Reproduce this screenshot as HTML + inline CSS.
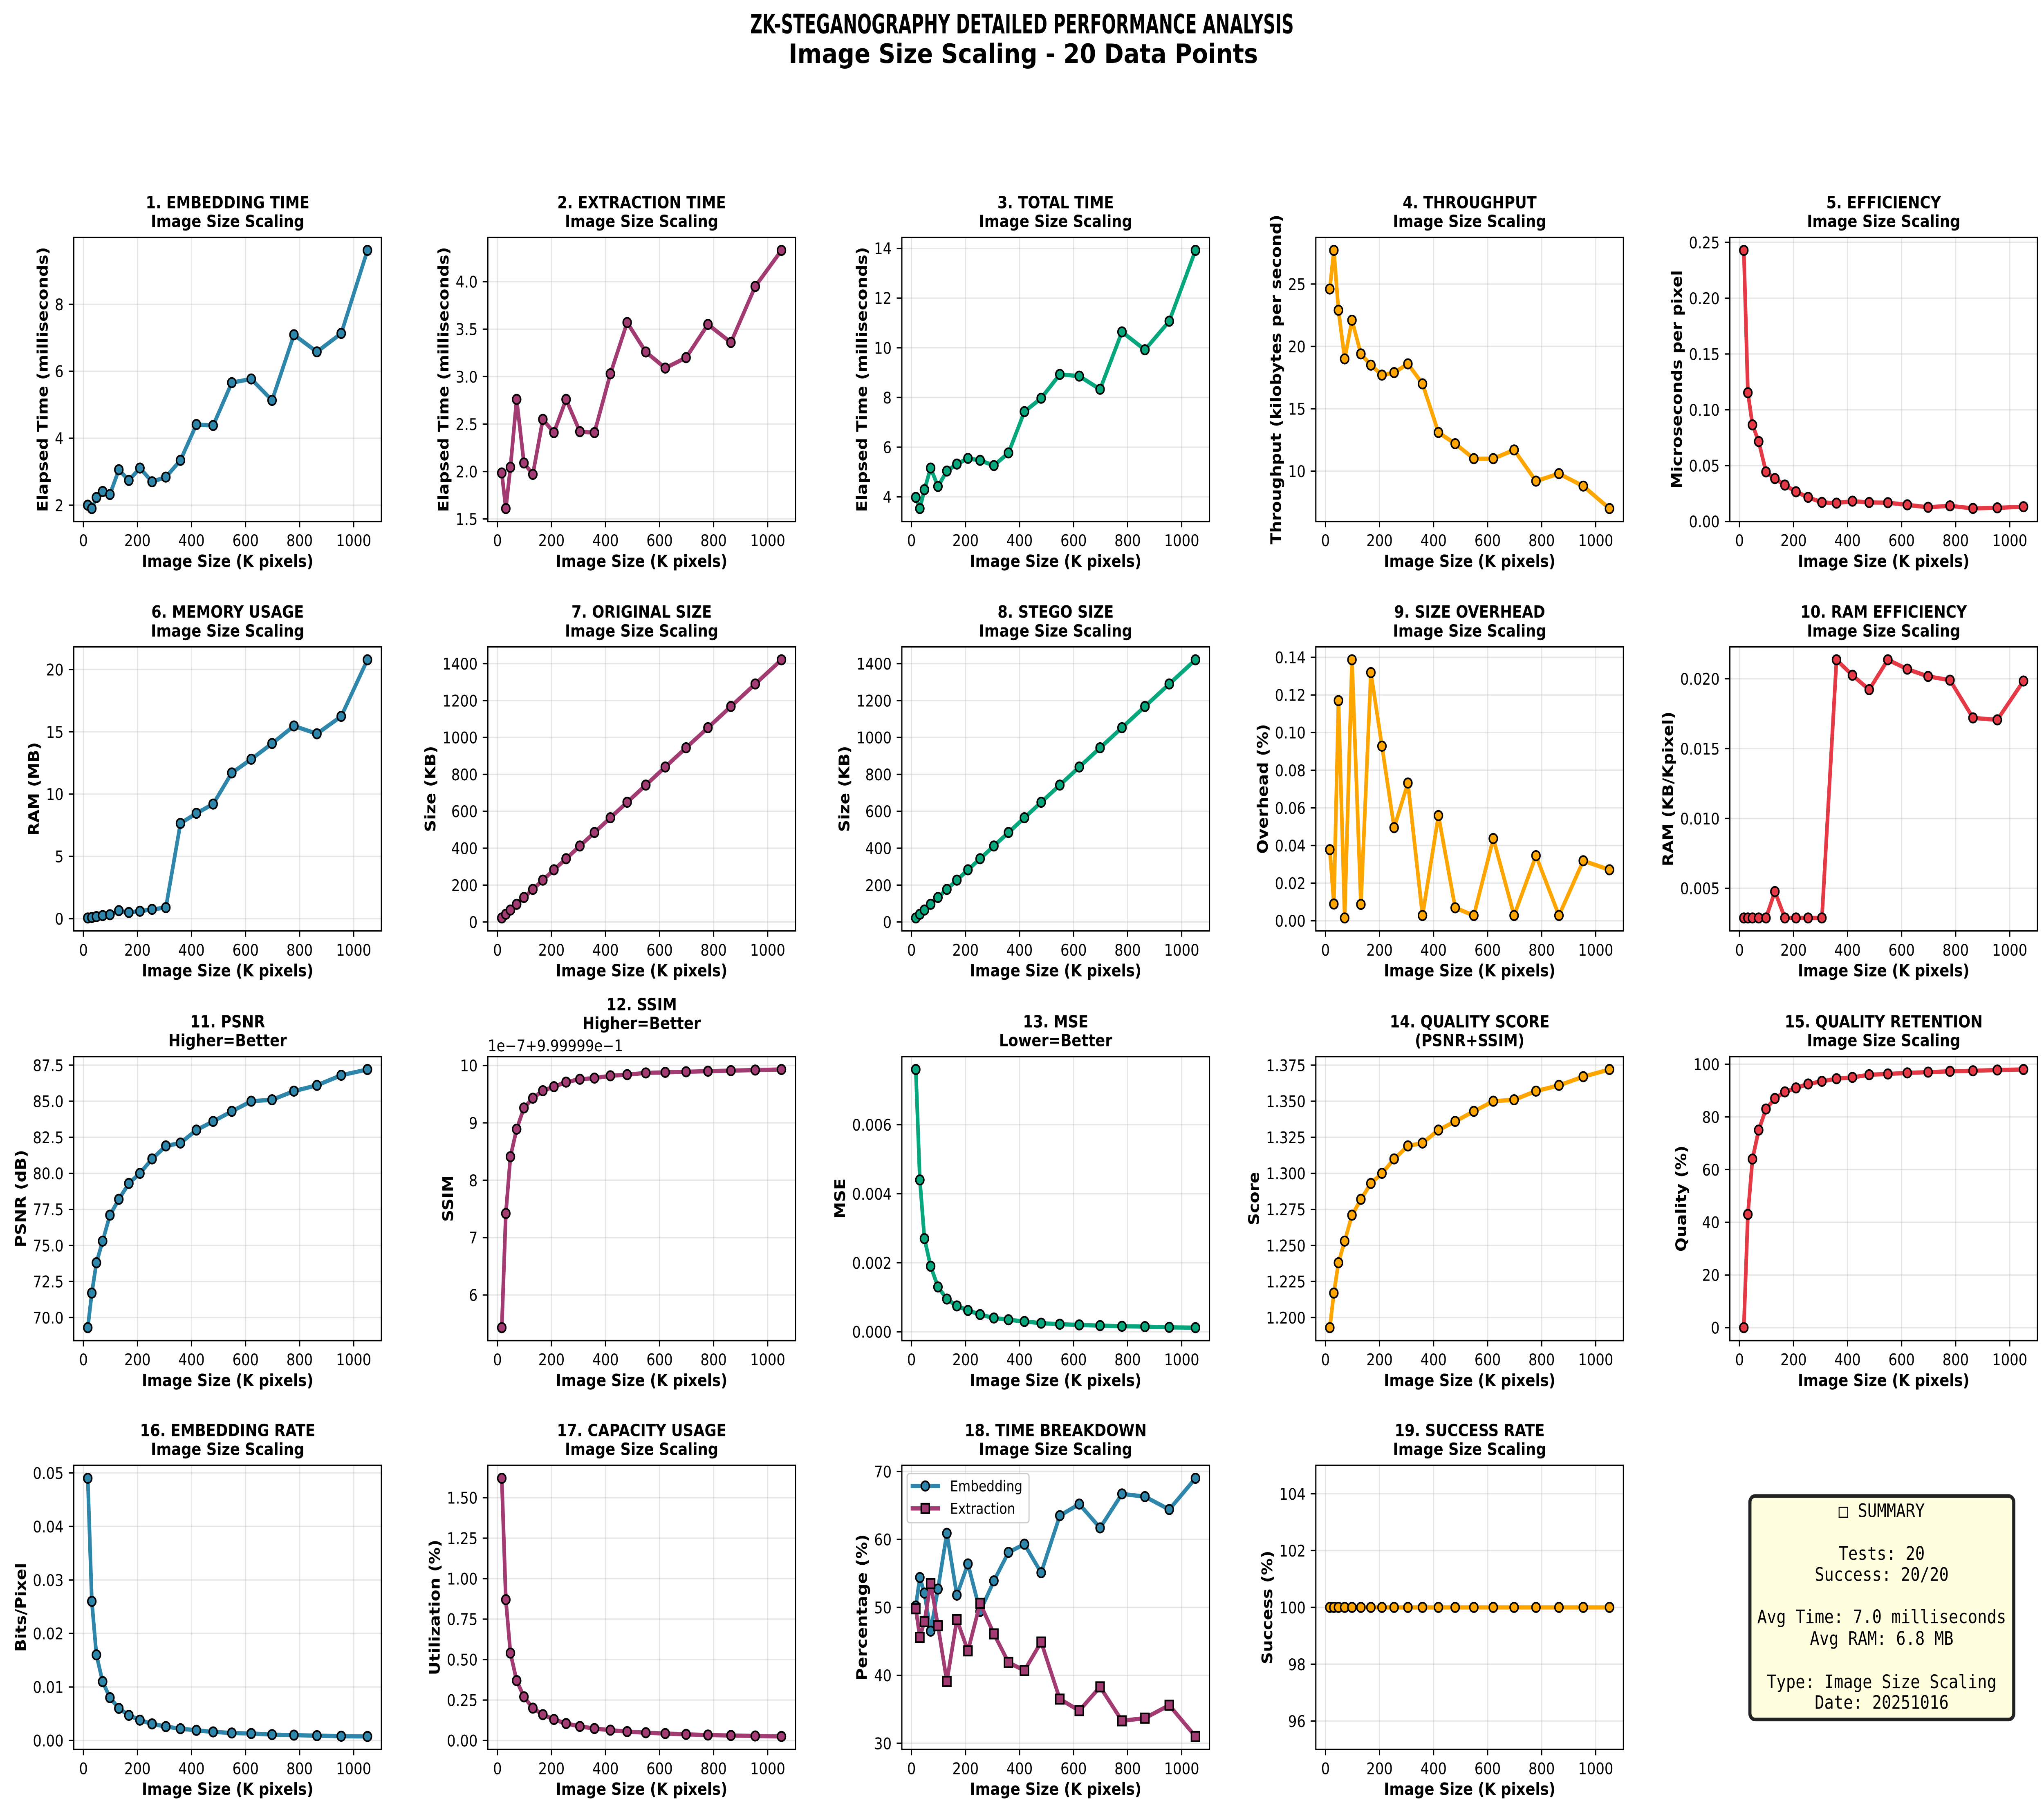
<!DOCTYPE html>
<html>
<head>
<meta charset="utf-8">
<meta name="viewport" content="width=5818">
<style>
  html,body{margin:0;padding:0;background:#fff;width:100vw;height:100vh;overflow:hidden;}
  svg{display:block;width:100vw;height:100vh;}
  text{font-family:"DejaVu Sans","Liberation Sans",sans-serif;}
  .mono{font-family:"DejaVu Sans Mono","Liberation Mono",monospace;}
</style>
</head>
<body>
<svg id="fig" xmlns="http://www.w3.org/2000/svg" viewBox="0 0 1568 1195" preserveAspectRatio="none">
  <rect x="0" y="0" width="1568" height="1195" fill="#ffffff"/>
  <text x="784" y="22" text-anchor="middle" font-weight="bold" font-size="17.5" textLength="417" lengthAdjust="spacingAndGlyphs">ZK-STEGANOGRAPHY DETAILED PERFORMANCE ANALYSIS</text>
  <text x="785" y="41.5" text-anchor="middle" font-weight="bold" font-size="17.5" textLength="360" lengthAdjust="spacingAndGlyphs">Image Size Scaling - 20 Data Points</text>
  <g id="panels"></g>
  <g>
    <rect x="1342.4" y="986.6" width="202.4" height="147.4" rx="4" ry="4" fill="#FFFFE0" stroke="#222" stroke-width="2.4"/>
    <g class="mono" font-size="12.2" text-anchor="middle">
      <text class="mono" x="1443.5" y="1000.5">□ SUMMARY</text>
      <text class="mono" x="1443.5" y="1028.7">Tests: 20</text>
      <text class="mono" x="1443.5" y="1042.5">Success: 20/20</text>
      <text class="mono" x="1443.5" y="1070.5">Avg Time: 7.0 milliseconds</text>
      <text class="mono" x="1443.5" y="1084.7">Avg RAM: 6.8 MB</text>
      <text class="mono" x="1443.5" y="1113.3">Type: Image Size Scaling</text>
      <text class="mono" x="1443.5" y="1127">Date: 20251016</text>
    </g>
  </g>
</svg>
<script>
// ---------- data ----------
const imageSizes = [16,31,48,71,98,131,168,209,254,305,359,418,480,549,621,698,779,864,954,1051];
const embeddingTime = [2.0,1.9,2.23,2.41,2.32,3.06,2.74,3.11,2.70,2.84,3.34,4.41,4.38,5.66,5.77,5.13,7.09,6.58,7.13,9.61];
const extractionTime = [1.985,1.61,2.045,2.76,2.09,1.97,2.55,2.41,2.76,2.42,2.41,3.03,3.57,3.26,3.09,3.20,3.55,3.36,3.95,4.33];
const totalTime = [3.98,3.53,4.29,5.16,4.42,5.04,5.32,5.55,5.47,5.26,5.77,7.43,7.97,8.93,8.86,8.33,10.64,9.92,11.07,13.92];
const throughput = [24.6,27.7,22.9,19.0,22.1,19.4,18.5,17.7,17.9,18.6,17.0,13.1,12.2,11.0,11.0,11.7,9.2,9.8,8.8,7.0];
const efficiency = [0.2428,0.1153,0.0865,0.0716,0.0444,0.0384,0.0326,0.0266,0.0216,0.0171,0.0164,0.0182,0.017,0.0168,0.0149,0.0127,0.014,0.0117,0.0122,0.0132];
const memoryUsage = [0.06,0.1,0.17,0.25,0.32,0.65,0.5,0.6,0.75,0.89,7.65,8.46,9.2,11.7,12.8,14.06,15.47,14.84,16.24,20.78];
const originalSize = [22,42,65,96,133,177,227,283,343,412,485,565,649,742,840,944,1053,1168,1290,1421];
const stegoSize = [22,42,65,96,133,177,227,283,343,412,485,565,649,742,840,944,1053,1168,1290,1421];
const sizeOverhead = [0.0378,0.0089,0.117,0.0015,0.1387,0.0087,0.1319,0.0928,0.0495,0.0732,0.0028,0.0559,0.0069,0.0028,0.0437,0.0028,0.0346,0.0028,0.0319,0.0271];
const ramEfficiency = [0.00288,0.00288,0.00288,0.00288,0.00288,0.00477,0.00288,0.00288,0.00288,0.00288,0.02136,0.02025,0.01922,0.02136,0.02069,0.02017,0.0199,0.0172,0.01706,0.01984];
const psnr = [69.3,71.7,73.8,75.3,77.1,78.2,79.3,80.0,81.0,81.9,82.1,83.0,83.6,84.3,85.0,85.1,85.7,86.1,86.8,87.2];
const ssimOffset = [5.43,7.42,8.41,8.89,9.26,9.43,9.56,9.63,9.71,9.76,9.78,9.82,9.84,9.87,9.88,9.89,9.90,9.91,9.92,9.93];
const mse = [0.0076,0.0044,0.0027,0.0019,0.0013,0.00095,0.00075,0.00062,0.0005,0.0004,0.00035,0.0003,0.00025,0.00022,0.0002,0.00018,0.00016,0.00015,0.00013,0.00012];
const qualityScore = [1.193,1.217,1.238,1.253,1.271,1.282,1.293,1.300,1.310,1.319,1.321,1.330,1.336,1.343,1.350,1.351,1.357,1.361,1.367,1.372];
const qualityRetention = [0,43,64,75,83,87,89.5,91,92.5,93.5,94.5,95,96,96.3,96.7,97,97.3,97.5,97.8,98];
const embeddingRate = [0.049,0.026,0.016,0.011,0.008,0.006,0.0047,0.0038,0.0031,0.0026,0.0022,0.0019,0.0016,0.0014,0.0013,0.0011,0.001,0.0009,0.0008,0.00075];
const capacityUsage = [1.62,0.87,0.54,0.37,0.27,0.2,0.16,0.13,0.105,0.087,0.074,0.064,0.055,0.048,0.043,0.038,0.034,0.031,0.028,0.025];
const embedPct = [50.2,54.4,52.1,46.5,52.7,60.9,51.8,56.4,49.4,53.9,58.1,59.3,55.1,63.5,65.2,61.7,66.7,66.3,64.4,69.0];
const extractPct = [49.8,45.6,47.9,53.5,47.3,39.1,48.2,43.6,50.6,46.1,41.9,40.7,44.9,36.5,34.8,38.3,33.3,33.7,35.6,31.0];
const successRate = [100,100,100,100,100,100,100,100,100,100,100,100,100,100,100,100,100,100,100,100];

// ---------- tick labels ----------
const xTicks = [0,200,400,600,800,1000];
const xTickLabels = ['0','200','400','600','800','1000'];
const yt1 = [2,4,6,8], yl1 = ['2','4','6','8'];
const yt2 = [1.5,2,2.5,3,3.5,4], yl2 = ['1.5','2.0','2.5','3.0','3.5','4.0'];
const yt3 = [4,6,8,10,12,14], yl3 = ['4','6','8','10','12','14'];
const yt4 = [10,15,20,25], yl4 = ['10','15','20','25'];
const yt5 = [0,0.05,0.10,0.15,0.20,0.25], yl5 = ['0.00','0.05','0.10','0.15','0.20','0.25'];
const yt6 = [0,5,10,15,20], yl6 = ['0','5','10','15','20'];
const yt7 = [0,200,400,600,800,1000,1200,1400], yl7 = ['0','200','400','600','800','1000','1200','1400'];
const yt9 = [0,0.02,0.04,0.06,0.08,0.10,0.12,0.14], yl9 = ['0.00','0.02','0.04','0.06','0.08','0.10','0.12','0.14'];
const yt10 = [0.005,0.010,0.015,0.020], yl10 = ['0.005','0.010','0.015','0.020'];
const yt11 = [70,72.5,75,77.5,80,82.5,85,87.5], yl11 = ['70.0','72.5','75.0','77.5','80.0','82.5','85.0','87.5'];
const yt12 = [6,7,8,9,10], yl12 = ['6','7','8','9','10'];
const yt13 = [0,0.002,0.004,0.006,0.008], yl13 = ['0.000','0.002','0.004','0.006','0.008'];
const yt14 = [1.2,1.225,1.25,1.275,1.3,1.325,1.35,1.375], yl14 = ['1.200','1.225','1.250','1.275','1.300','1.325','1.350','1.375'];
const yt15 = [0,20,40,60,80,100], yl15 = ['0','20','40','60','80','100'];
const yt16 = [0,0.01,0.02,0.03,0.04,0.05], yl16 = ['0.00','0.01','0.02','0.03','0.04','0.05'];
const yt17 = [0,0.25,0.5,0.75,1.0,1.25,1.5], yl17 = ['0.00','0.25','0.50','0.75','1.00','1.25','1.50'];
const yt18 = [30,40,50,60,70], yl18 = ['30','40','50','60','70'];
const yt19 = [96,98,100,102,104], yl19 = ['96','98','100','102','104'];

const BLUE='#2E86AB', MAG='#A23B72', GREEN='#06A77D', ORANGE='#FFA500', RED='#E63946';

const panels = [
 {t:'1. EMBEDDING TIME', s:'Image Size Scaling', yl:'Elapsed Time (milliseconds)', series:[{y:embeddingTime,c:BLUE}], yt:yt1, ytl:yl1},
 {t:'2. EXTRACTION TIME', s:'Image Size Scaling', yl:'Elapsed Time (milliseconds)', series:[{y:extractionTime,c:MAG}], yt:yt2, ytl:yl2},
 {t:'3. TOTAL TIME', s:'Image Size Scaling', yl:'Elapsed Time (milliseconds)', series:[{y:totalTime,c:GREEN}], yt:yt3, ytl:yl3},
 {t:'4. THROUGHPUT', s:'Image Size Scaling', yl:'Throughput (kilobytes per second)', series:[{y:throughput,c:ORANGE}], yt:yt4, ytl:yl4},
 {t:'5. EFFICIENCY', s:'Image Size Scaling', yl:'Microseconds per pixel', series:[{y:efficiency,c:RED}], yt:yt5, ytl:yl5, ymin0:true},
 {t:'6. MEMORY USAGE', s:'Image Size Scaling', yl:'RAM (MB)', series:[{y:memoryUsage,c:BLUE}], yt:yt6, ytl:yl6},
 {t:'7. ORIGINAL SIZE', s:'Image Size Scaling', yl:'Size (KB)', series:[{y:originalSize,c:MAG}], yt:yt7, ytl:yl7},
 {t:'8. STEGO SIZE', s:'Image Size Scaling', yl:'Size (KB)', series:[{y:stegoSize,c:GREEN}], yt:yt7, ytl:yl7},
 {t:'9. SIZE OVERHEAD', s:'Image Size Scaling', yl:'Overhead (%)', series:[{y:sizeOverhead,c:ORANGE}], yt:yt9, ytl:yl9},
 {t:'10. RAM EFFICIENCY', s:'Image Size Scaling', yl:'RAM (KB/Kpixel)', series:[{y:ramEfficiency,c:RED}], yt:yt10, ytl:yl10},
 {t:'11. PSNR', s:'Higher=Better', yl:'PSNR (dB)', series:[{y:psnr,c:BLUE}], yt:yt11, ytl:yl11},
 {t:'12. SSIM', s:'Higher=Better', yl:'SSIM', series:[{y:ssimOffset,c:MAG}], yt:yt12, ytl:yl12, offset:'1e\u22127+9.99999e\u22121'},
 {t:'13. MSE', s:'Lower=Better', yl:'MSE', series:[{y:mse,c:GREEN}], yt:yt13, ytl:yl13},
 {t:'14. QUALITY SCORE', s:'(PSNR+SSIM)', yl:'Score', series:[{y:qualityScore,c:ORANGE}], yt:yt14, ytl:yl14},
 {t:'15. QUALITY RETENTION', s:'Image Size Scaling', yl:'Quality (%)', series:[{y:qualityRetention,c:RED}], yt:yt15, ytl:yl15},
 {t:'16. EMBEDDING RATE', s:'Image Size Scaling', yl:'Bits/Pixel', series:[{y:embeddingRate,c:BLUE}], yt:yt16, ytl:yl16},
 {t:'17. CAPACITY USAGE', s:'Image Size Scaling', yl:'Utilization (%)', series:[{y:capacityUsage,c:MAG}], yt:yt17, ytl:yl17},
 {t:'18. TIME BREAKDOWN', s:'Image Size Scaling', yl:'Percentage (%)', series:[{y:embedPct,c:BLUE,name:'Embedding'},{y:extractPct,c:MAG,m:'s',name:'Extraction'}], yt:yt18, ytl:yl18, legend:true},
 {t:'19. SUCCESS RATE', s:'Image Size Scaling', yl:'Success (%)', series:[{y:successRate,c:ORANGE}], yt:yt19, ytl:yl19}
];

// ---------- drawing ----------
const NS='http://www.w3.org/2000/svg';
const root=document.getElementById('panels');
function mk(tag, parent){ const e=document.createElementNS(NS,tag); parent.appendChild(e); return e; }
function slug(s){ return s.toLowerCase().replace(/^\d+\.\s*/,'').replace(/[^a-z0-9]+/g,'-').replace(/^-|-$/g,''); }

const LEFT0=56.6, COLSTEP=317.6, W=236, H=187.3;
const TOPS=[156.6,426.6,696.8,966.4];
const TICKFS=10.6, LBLFS=11.1;

panels.forEach((p,i)=>{
  const col=i%5, row=Math.floor(i/5);
  const L=LEFT0+col*COLSTEP, T=TOPS[row], B=T+H, R=L+W;
  const g=mk('g',root);
  
  

  const xmin=Math.min(...imageSizes), xmax=Math.max(...imageSizes);
  const xpad=(xmax-xmin)*0.05;
  const x0=xmin-xpad, x1=xmax+xpad;
  let all=[]; p.series.forEach(s=>{all=all.concat(s.y);});
  let ymn=Math.min(...all), ymx=Math.max(...all);
  let y0,y1;
  if(ymx-ymn===0){ y0=ymn-Math.abs(ymn)*0.05; y1=ymx+Math.abs(ymx)*0.05; }
  else { const yp=(ymx-ymn)*0.05; y0=ymn-yp; y1=ymx+yp; }
  if(p.ymin0) y0=0;
  const sx=v=>L+(v-x0)/(x1-x0)*W;
  const sy=v=>B-(v-y0)/(y1-y0)*H;

  const grid=mk('g',g);
  
  
  xTicks.forEach(v=>{ if(v<x0||v>x1) return;
    const l=mk('line',grid); l.setAttribute('x1',sx(v)); l.setAttribute('x2',sx(v)); l.setAttribute('y1',T); l.setAttribute('y2',B);
    l.setAttribute('stroke','#b0b0b0'); l.setAttribute('stroke-opacity','0.3'); l.setAttribute('stroke-width','0.9');
    
    
  });
  p.yt.forEach(v=>{ if(v<y0-1e-12||v>y1+1e-12) return;
    const l=mk('line',grid); l.setAttribute('x1',L); l.setAttribute('x2',R); l.setAttribute('y1',sy(v)); l.setAttribute('y2',sy(v));
    l.setAttribute('stroke','#b0b0b0'); l.setAttribute('stroke-opacity','0.3'); l.setAttribute('stroke-width','0.9');
    
    
  });

  p.series.forEach((s,si)=>{
    const sg=mk('g',g);
    
    
    const pl=mk('polyline',sg);
    pl.setAttribute('points',imageSizes.map((x,k)=>sx(x)+','+sy(s.y[k])).join(' '));
    pl.setAttribute('fill','none'); pl.setAttribute('stroke',s.c); pl.setAttribute('stroke-width','2.8'); pl.setAttribute('stroke-linejoin','round');
    
    
    imageSizes.forEach((x,k)=>{
      let m;
      if(s.m==='s'){
        m=mk('rect',sg); m.setAttribute('x',sx(x)-3.1); m.setAttribute('y',sy(s.y[k])-3.1); m.setAttribute('width',6.2); m.setAttribute('height',6.2);
      } else {
        m=mk('circle',sg); m.setAttribute('cx',sx(x)); m.setAttribute('cy',sy(s.y[k])); m.setAttribute('r',3.1);
      }
      m.setAttribute('fill',s.c); m.setAttribute('stroke','#000'); m.setAttribute('stroke-width','1.1');
      
      
    });
  });

  const fr=mk('rect',g);
  fr.setAttribute('x',L); fr.setAttribute('y',T); fr.setAttribute('width',W); fr.setAttribute('height',H);
  fr.setAttribute('fill','none'); fr.setAttribute('stroke','#000'); fr.setAttribute('stroke-width','0.95');
  
  

  const xa=mk('g',g);
  
  
  xTicks.forEach((v,k)=>{ if(v<x0||v>x1) return;
    const l=mk('line',xa); l.setAttribute('x1',sx(v)); l.setAttribute('x2',sx(v)); l.setAttribute('y1',B); l.setAttribute('y2',B+3.9);
    l.setAttribute('stroke','#000'); l.setAttribute('stroke-width','0.9');
    
    
    const t=mk('text',xa); t.setAttribute('x',sx(v)); t.setAttribute('y',B+16.3); t.setAttribute('text-anchor','middle'); t.setAttribute('font-size',TICKFS);
    t.textContent=xTickLabels[k];
    
    
  });
  const xl=mk('text',xa); xl.setAttribute('x',L+W/2); xl.setAttribute('y',B+30); xl.setAttribute('text-anchor','middle');
  xl.setAttribute('font-size',LBLFS); xl.setAttribute('font-weight','bold'); xl.textContent='Image Size (K pixels)';
  
  

  const ya=mk('g',g);
  
  
  let maxw=0;
  p.yt.forEach((v,k)=>{ if(v<y0-1e-12||v>y1+1e-12) return;
    const l=mk('line',ya); l.setAttribute('x1',L-3.9); l.setAttribute('x2',L); l.setAttribute('y1',sy(v)); l.setAttribute('y2',sy(v));
    l.setAttribute('stroke','#000'); l.setAttribute('stroke-width','0.9');
    
    
    const t=mk('text',ya); t.setAttribute('x',L-7.8); t.setAttribute('y',sy(v)+3.9); t.setAttribute('text-anchor','end'); t.setAttribute('font-size',TICKFS);
    t.textContent=p.ytl[k];
    
    
    const s=p.ytl[k]; let w=0; for(const ch of s){ w+= (ch==='.')?0.318:0.636; }
    maxw=Math.max(maxw,w*TICKFS);
  });
  const yx=L-7.8-maxw-5.5;
  const yl=mk('text',ya); yl.setAttribute('x',yx); yl.setAttribute('y',T+H/2); yl.setAttribute('text-anchor','middle');
  yl.setAttribute('transform','rotate(-90 '+yx+' '+(T+H/2)+')');
  yl.setAttribute('font-size',LBLFS); yl.setAttribute('font-weight','bold'); yl.textContent=p.yl;
  
  

  let shift=0;
  if(p.offset){
    const ot=mk('text',g); ot.setAttribute('x',L); ot.setAttribute('y',T-3.5); ot.setAttribute('font-size',TICKFS); ot.textContent=p.offset;
    
    
    shift=11.3;
  }
  const t1=mk('text',g); t1.setAttribute('x',L+W/2); t1.setAttribute('y',T-19.3-shift); t1.setAttribute('text-anchor','middle');
  t1.setAttribute('font-size',LBLFS); t1.setAttribute('font-weight','bold'); t1.textContent=p.t;
  
  
  const t2=mk('text',g); t2.setAttribute('x',L+W/2); t2.setAttribute('y',T-6.8-shift); t2.setAttribute('text-anchor','middle');
  t2.setAttribute('font-size',LBLFS); t2.setAttribute('font-weight','bold'); t2.textContent=p.s;
  
  

  if(p.legend){
    const lg=mk('g',g);
    
    
    const bx=mk('rect',lg); bx.setAttribute('x',L+4.1); bx.setAttribute('y',T+5.4); bx.setAttribute('width',93.5); bx.setAttribute('height',32.4);
    bx.setAttribute('rx',2); bx.setAttribute('fill','#fff'); bx.setAttribute('fill-opacity','0.8'); bx.setAttribute('stroke','#cccccc'); bx.setAttribute('stroke-width','0.9');
    
    
    p.series.forEach((s,si)=>{
      const cy=T+13.6+si*14.8;
      const e=mk('g',lg);
      
      
      const ln=mk('line',e); ln.setAttribute('x1',L+6.8); ln.setAttribute('x2',L+29.2); ln.setAttribute('y1',cy); ln.setAttribute('y2',cy);
      ln.setAttribute('stroke',s.c); ln.setAttribute('stroke-width','2.8');
      let m;
      if(s.m==='s'){ m=mk('rect',e); m.setAttribute('x',L+18-3.1); m.setAttribute('y',cy-3.1); m.setAttribute('width',6.2); m.setAttribute('height',6.2); }
      else { m=mk('circle',e); m.setAttribute('cx',L+18); m.setAttribute('cy',cy); m.setAttribute('r',3.1); }
      m.setAttribute('fill',s.c); m.setAttribute('stroke','#000'); m.setAttribute('stroke-width','1.1');
      const tx=mk('text',e); tx.setAttribute('x',L+37); tx.setAttribute('y',cy+3.5); tx.setAttribute('font-size','9.8'); tx.textContent=s.name;
    });
  }
});
</script>
</body>
</html>
